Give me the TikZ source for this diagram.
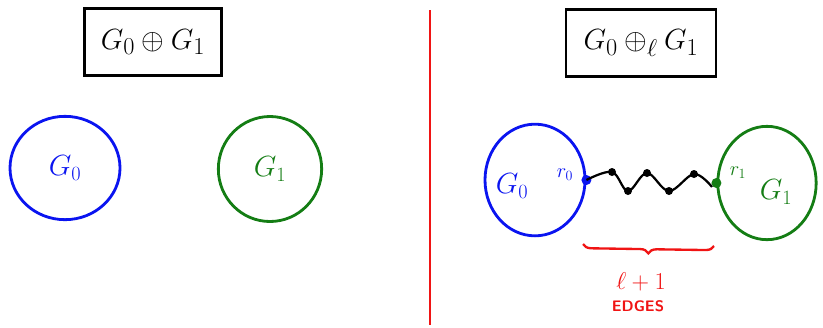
\documentclass[tikz,border=0pt]{standalone}
\usepackage{amsmath}
\usepackage{amssymb}
\usepackage{xcolor}
\usepackage{tikz}
\usetikzlibrary{shapes.geometric, decorations.pathreplacing}

\definecolor{penblue}{RGB}{10,20,240}
\definecolor{pengreen}{RGB}{20,125,20}
\definecolor{penred}{RGB}{240,20,20}

\begin{document}
\begin{tikzpicture}[
    x=0.03cm, y=-0.03cm,
    titlebox/.style={rectangle, draw, line width=2.2pt, minimum width=4.1cm,
                     minimum height=2cm, font=\fontsize{29}{32}\selectfont},
    blob/.style={ellipse, draw, line width=2.4pt, inner sep=0pt},
    glabel/.style={font=\fontsize{26}{30}\selectfont},
    rlabel/.style={font=\fontsize{18}{20}\selectfont},
    vert/.style={circle, fill, inner sep=0pt, minimum size=0.24cm},
    root/.style={circle, fill, inner sep=0pt, minimum size=0.3cm},
    wire/.style={line width=1.9pt}
]
\useasboundingbox (0,0) rectangle (823,327);

% titles
\node[titlebox] (tl) at (153,42) {$G_0 \oplus G_1$};
\node[titlebox, minimum width=4.5cm] (tr) at (641,43) {$G_0 \oplus_{\ell} G_1$};

% separator
\draw[penred, line width=1.8pt] (430,10) -- (430,325);

% left half
\node[blob, penblue, minimum width=3.3cm, minimum height=3.1cm] (g0l) at (65,168) {};
\node[glabel, penblue] at (g0l) {$G_0$};
\node[blob, pengreen, minimum width=3.1cm, minimum height=3.15cm] (g1l) at (270,169) {};
\node[glabel, pengreen] at (g1l) {$G_1$};

% right half
\node[blob, penblue, minimum width=3cm, minimum height=3.35cm] (g0r) at (535,180) {};
\node[glabel, penblue] at (512,186) {$G_0$};
\node[blob, pengreen, minimum width=2.95cm, minimum height=3.4cm] (g1r) at (767,183) {};
\node[glabel, pengreen] at (776,192) {$G_1$};

\node[root, penblue] (r0) at (g0r.east) {};
\node[root, pengreen] (r1) at (g1r.west) {};
\node[rlabel, penblue] at (565,175) {$r_0$};
\node[rlabel, pengreen] at (738,173) {$r_1$};

% path of length l+1
\node[vert] (z1) at (612,172) {};
\node[vert] (z2) at (628,191) {};
\node[vert] (z3) at (647,173) {};
\node[vert] (z4) at (669,191) {};
\node[vert] (z5) at (694,174) {};
\coordinate (z6) at (712,187);
\draw[wire] plot[smooth, tension=0.6] coordinates {(r0) (z1) (z2) (z3) (z4) (z5) (z6)};

% brace
\coordinate (b1) at (583,244);
\coordinate (b2) at (714,246);
\draw[penred, line width=2pt, decorate,
      decoration={brace, mirror, amplitude=0.25cm}] (b1) -- (b2);
\node[penred, font=\fontsize{22}{24}\selectfont] (len) at (641,282) {$\ell+1$};
\node[penred, font=\sffamily\bfseries\fontsize{13}{15}\selectfont] (edg) at (638,306) {EDGES};
\end{tikzpicture}
\end{document}
